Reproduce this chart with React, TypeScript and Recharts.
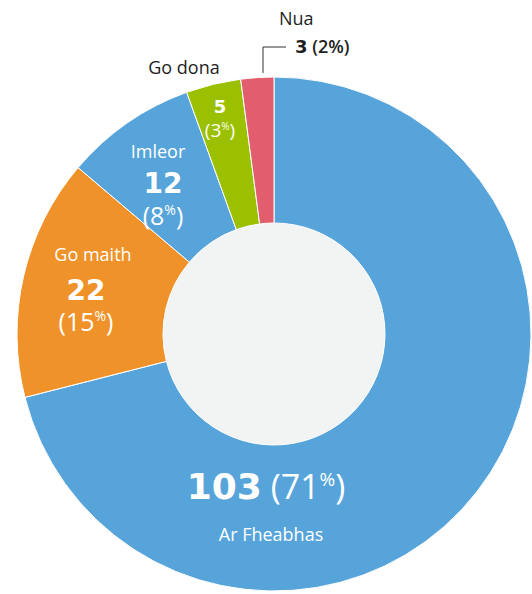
import { Cell, Pie, PieChart } from 'recharts'

const categories = ['Ar Fheabhas', 'Go maith', 'Imleor', 'Go dona', 'Nua']
const counts = [103, 22, 12, 5, 3]
const sliceColors = ['#57a4da', '#ef9229', '#57a4da', '#9bc000', '#e25e6e']

const data = categories.map((name, i) => ({ name, value: counts[i] }))
const hole = [{ name: 'hole', value: 1 }]

const SANS = '"Open Sans", "Noto Sans", sans-serif'
const BOLD = '"DejaVu Sans", Verdana, sans-serif'
const WHITE = '#ffffff'
const DARK = '#1e1e1e'
const LIGHT = 400

// "(15%)" with the per-cent sign raised and shrunk, as in the original
function Pct({ pct, size }: { pct: number; size: number }) {
  const sup = Math.round(size * 0.55)
  const rise = Math.round(size * 0.38)
  return (
    <>
      <tspan fontSize={size}>({pct}</tspan>
      <tspan fontSize={sup} dy={-rise}>%</tspan>
      <tspan fontSize={size} dy={rise}>)</tspan>
    </>
  )
}

function renderLabel(props: any) {
  const { cx, cy, index, value, percent } = props
  const pct = Math.round(percent * 100)
  const name = categories[index]

  if (index === 0) {
    return (
      <g>
        <text x={cx - 8} y={cy + 165} textAnchor="middle" fill={WHITE} fontFamily={SANS} fontWeight={LIGHT}>
          <tspan fontFamily={BOLD} fontWeight={700} fontSize={36}>{value}</tspan>
          <tspan fontSize={34}> </tspan>
          <Pct pct={pct} size={34} />
        </text>
        <text x={cx - 3} y={cy + 207} textAnchor="middle" fill={WHITE} fontFamily={SANS} fontWeight={LIGHT} fontSize={18}>
          {name}
        </text>
      </g>
    )
  }
  if (index === 1 || index === 2) {
    const p = index === 1 ? { nx: -181, ny: -73, vx: -188, vy: -34, py: -3 } : { nx: -116, ny: -176, vx: -111, vy: -141, py: -109 }
    return (
      <g fill={WHITE}>
        <text x={cx + p.nx} y={cy + p.ny} textAnchor="middle" fontFamily={SANS} fontWeight={LIGHT} fontSize={18}>{name}</text>
        <text x={cx + p.vx} y={cy + p.vy} textAnchor="middle" fontFamily={BOLD} fontWeight={700} fontSize={28}>{value}</text>
        <text x={cx + p.vx} y={cy + p.py} textAnchor="middle" fontFamily={SANS} fontWeight={LIGHT}>
          <Pct pct={pct} size={25} />
        </text>
      </g>
    )
  }
  if (index === 3) {
    return (
      <g>
        <text x={cx - 90} y={cy - 260} textAnchor="middle" fill={DARK} fontFamily={SANS} fontSize={18}>{name}</text>
        <text x={cx - 54} y={cy - 221} textAnchor="middle" fill={WHITE} fontFamily={BOLD} fontWeight={700} fontSize={18}>{value}</text>
        <text x={cx - 54} y={cy - 197} textAnchor="middle" fill={WHITE} fontFamily={SANS} fontWeight={LIGHT}>
          <Pct pct={pct} size={19} />
        </text>
      </g>
    )
  }
  return (
    <g>
      <path d={`M${cx - 11},${cy - 261}V${cy - 287}H${cx + 12}`} stroke="#333" strokeWidth={1} fill="none" />
      <text x={cx + 5} y={cy - 309} fill={DARK} fontFamily={SANS} fontSize={18}>{name}</text>
      <text x={cx + 21} y={cy - 281} fill={DARK} fontFamily={SANS} fontSize={18}>
        <tspan fontFamily={BOLD} fontWeight={700}>{value}</tspan>
        <tspan fontWeight={600}> ({pct}%)</tspan>
      </text>
    </g>
  )
}

export default function App() {
  return (
    <div style={{ width: 532, height: 594 }}>
      <style>{'body{margin:0}'}</style>
      <PieChart width={532} height={594} margin={{ top: 0, right: 0, bottom: 0, left: 0 }}>
        <Pie
          data={hole}
          dataKey="value"
          cx={274}
          cy={334}
          innerRadius={0}
          outerRadius={111}
          fill="#f2f3f3"
          stroke="none"
          isAnimationActive={false}
        />
        <Pie
          data={data}
          dataKey="value"
          nameKey="name"
          cx={274}
          cy={334}
          innerRadius={111}
          outerRadius={257}
          startAngle={90}
          endAngle={-270}
          stroke="#ffffff"
          strokeWidth={1}
          label={renderLabel}
          labelLine={false}
          isAnimationActive={false}
        >
          {data.map((d, i) => (
            <Cell key={d.name} fill={sliceColors[i]} />
          ))}
        </Pie>
      </PieChart>
    </div>
  )
}
